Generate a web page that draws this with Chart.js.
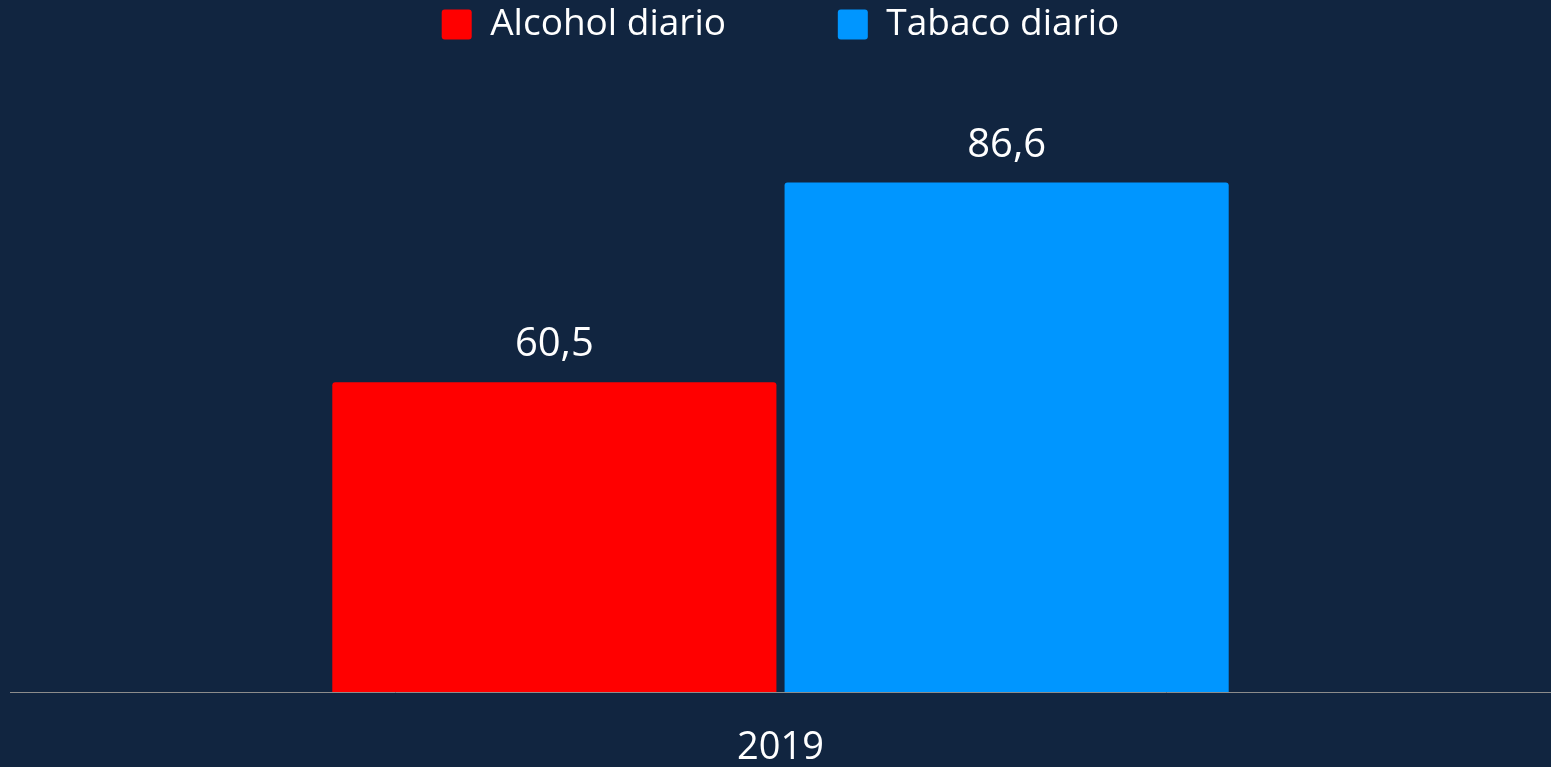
<!DOCTYPE html>
<html>
<head>
<meta charset="utf-8">
<script src="https://cdn.jsdelivr.net/npm/chart.js@4"></script>
<style>
  html, body { margin: 0; padding: 0; background: #112540; }
  #wrap { width: 1551px; height: 767px; }
</style>
</head>
<body>
<div id="wrap"><canvas id="chart"></canvas></div>
<script>
// Datos del gráfico
const categories = ['2019'];
const seriesNames = ['Alcohol diario', 'Tabaco diario'];
const alcoholValues = [60.5];
const tabacoValues = [86.6];

const FONT = "'Open Sans', sans-serif";

// Etiquetas de valor encima de cada barra
const valueLabels = {
    id: 'valueLabels',
    afterDatasetsDraw(chart) {
        const ctx = chart.ctx;
        ctx.save();
        ctx.fillStyle = '#ffffff';
        ctx.font = '40px ' + FONT;
        ctx.textAlign = 'center';
        ctx.textBaseline = 'alphabetic';
        chart.data.datasets.forEach((ds, i) => {
            chart.getDatasetMeta(i).data.forEach((bar, j) => {
                const txt = ds.data[j].toFixed(1).replace('.', ',');
                ctx.fillText(txt, bar.x, bar.y - 26);
            });
        });
        ctx.restore();
    }
};

// Espacio bajo la leyenda
const legendSpace = {
    id: 'legendSpace',
    beforeInit(chart) {
        const fit = chart.legend.fit;
        chart.legend.fit = function () {
            fit.bind(chart.legend)();
            this.height = 80;
        };
    }
};

const ctx = document.getElementById('chart').getContext('2d');
const chart = new Chart(ctx, {
    type: 'bar',
    data: {
        labels: categories,
        datasets: [{
            label: seriesNames[0],
            data: alcoholValues,
            backgroundColor: '#ff0000',
            borderRadius: 3,
            borderSkipped: 'start'
        }, {
            label: seriesNames[1],
            data: tabacoValues,
            backgroundColor: '#0096ff',
            borderRadius: 3,
            borderSkipped: 'start'
        }]
    },
    options: {
        responsive: true,
        maintainAspectRatio: false,
        animation: false,
        categoryPercentage: 0.587,
        barPercentage: 0.982,
        layout: { padding: { left: 10, right: 0, top: 0, bottom: 0 } },
        plugins: {
            tooltip: { enabled: false },
            legend: {
                position: 'top',
                labels: {
                    color: '#ffffff',
                    font: { family: FONT, size: 37 },
                    boxWidth: 30,
                    boxHeight: 30,
                    padding: 6,
                    generateLabels(chart) {
                        const items = Chart.defaults.plugins.legend.labels.generateLabels(chart);
                        items.forEach((it, i) => {
                            it.borderRadius = 3;
                            it.lineWidth = 0;
                            if (i < items.length - 1) it.text = it.text + '\u00A0'.repeat(11);
                        });
                        return items;
                    }
                }
            }
        },
        scales: {
            x: {
                grid: { display: false, drawTicks: false },
                border: { display: true, color: '#8c8c8c', width: 1 },
                ticks: {
                    color: '#ffffff',
                    font: { family: FONT, size: 38 },
                    padding: 33
                },
                afterFit(scale) {
                    scale.height = 75;
                }
            },
            y: {
                display: false,
                min: 20,
                max: 100
            }
        }
    },
    plugins: [valueLabels, legendSpace]
});
</script>
</body>
</html>
